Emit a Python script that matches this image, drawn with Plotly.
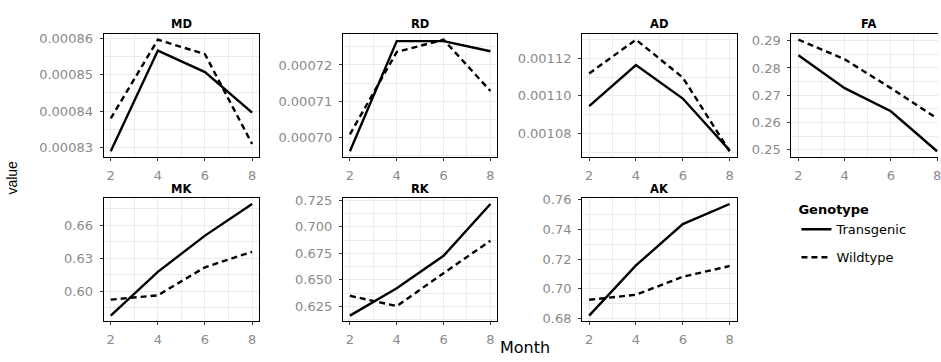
import plotly.graph_objects as go

# ---------------- data ----------------
months = [2, 4, 6, 8]
panels = ["MD", "RD", "AD", "FA", "MK", "RK", "AK"]
genotypes = ["Transgenic", "Wildtype"]

md_transgenic = [0.0008290, 0.0008566, 0.0008507, 0.0008396]
md_wildtype = [0.0008380, 0.0008596, 0.0008556, 0.0008310]
rd_transgenic = [0.0006961, 0.0007266, 0.0007266, 0.0007238]
rd_wildtype = [0.0007008, 0.0007236, 0.0007270, 0.0007128]
ad_transgenic = [0.0010946, 0.0011165, 0.0010986, 0.0010710]
ad_wildtype = [0.0011120, 0.0011300, 0.0011098, 0.0010705]
fa_transgenic = [0.2847, 0.2726, 0.2641, 0.2494]
fa_wildtype = [0.2904, 0.2832, 0.2726, 0.2615]
mk_transgenic = [0.5777, 0.6176, 0.6506, 0.6794]
mk_wildtype = [0.5923, 0.5962, 0.6218, 0.6359]
rk_transgenic = [0.6163, 0.6421, 0.6726, 0.7214]
rk_wildtype = [0.6350, 0.6253, 0.6563, 0.6868]
ak_transgenic = [0.6821, 0.7157, 0.7434, 0.7568]
ak_wildtype = [0.6927, 0.6961, 0.7081, 0.7153]

x_tick_vals = [2, 4, 6, 8]
x_tick_labels = ["2", "4", "6", "8"]

md_tick_vals = [0.00083, 0.00084, 0.00085, 0.00086]
md_tick_labels = ["0.00083", "0.00084", "0.00085", "0.00086"]
rd_tick_vals = [0.00070, 0.00071, 0.00072]
rd_tick_labels = ["0.00070", "0.00071", "0.00072"]
ad_tick_vals = [0.00108, 0.00110, 0.00112]
ad_tick_labels = ["0.00108", "0.00110", "0.00112"]
fa_tick_vals = [0.25, 0.26, 0.27, 0.28, 0.29]
fa_tick_labels = ["0.25", "0.26", "0.27", "0.28", "0.29"]
mk_tick_vals = [0.60, 0.63, 0.66]
mk_tick_labels = ["0.60", "0.63", "0.66"]
rk_tick_vals = [0.625, 0.650, 0.675, 0.700, 0.725]
rk_tick_labels = ["0.625", "0.650", "0.675", "0.700", "0.725"]
ak_tick_vals = [0.68, 0.70, 0.72, 0.74, 0.76]
ak_tick_labels = ["0.68", "0.70", "0.72", "0.74", "0.76"]

series = {
    "MD": (md_transgenic, md_wildtype, md_tick_vals, md_tick_labels),
    "RD": (rd_transgenic, rd_wildtype, rd_tick_vals, rd_tick_labels),
    "AD": (ad_transgenic, ad_wildtype, ad_tick_vals, ad_tick_labels),
    "FA": (fa_transgenic, fa_wildtype, fa_tick_vals, fa_tick_labels),
    "MK": (mk_transgenic, mk_wildtype, mk_tick_vals, mk_tick_labels),
    "RK": (rk_transgenic, rk_wildtype, rk_tick_vals, rk_tick_labels),
    "AK": (ak_transgenic, ak_wildtype, ak_tick_vals, ak_tick_labels),
}

# ---------------- layout geometry (pixels) ----------------
W, H = 941, 362
col_left = [104, 344, 584, 794]
col_right = [260, 499, 739, 941]
row_top = [28, 198]
row_bottom = [155, 325]

FONT = "DejaVu Sans"
GRID = "#EBEBEB"
TICKFONT = dict(family=FONT, size=13, color="#8A8A8A")

fig = go.Figure()
annotations = []

for i, name in enumerate(panels):
    r, c = divmod(i, 4)
    idx = i + 1
    xa = "x" if idx == 1 else f"x{idx}"
    ya = "y" if idx == 1 else f"y{idx}"
    trans, wild, tv, tl = series[name]

    for g, vals, dash in ((genotypes[0], trans, "solid"), (genotypes[1], wild, "6px,4px")):
        fig.add_trace(go.Scatter(
            x=months, y=vals, mode="lines", name=g, legendgroup=g,
            showlegend=(i == 0), xaxis=xa, yaxis=ya,
            line=dict(color="black", width=2.4, dash=dash),
            hoverinfo="skip",
        ))

    x0, x1 = col_left[c] / W, col_right[c] / W
    y0, y1 = 1 - row_bottom[r] / H, 1 - row_top[r] / H

    # x range: ggplot 5% expansion; FA panel is cut by the image edge
    xr = [1.7, 8.3] if name != "FA" else [1.7, 8.04]
    allv = trans + wild
    lo, hi = min(allv), max(allv)
    pad = (hi - lo) * 0.05
    yr = [lo - pad, hi + pad]
    ystep = tv[1] - tv[0]

    xkey = "xaxis" if idx == 1 else f"xaxis{idx}"
    ykey = "yaxis" if idx == 1 else f"yaxis{idx}"
    fig.layout[xkey] = dict(
        domain=[x0, x1], range=xr, anchor=ya,
        tickmode="array", tickvals=x_tick_vals, ticktext=x_tick_labels,
        ticks="outside", ticklen=3, tickwidth=1, tickcolor="#333333",
        tickfont=TICKFONT, showgrid=True, gridcolor=GRID, gridwidth=1,
        minor=dict(tick0=1, dtick=1, showgrid=True, gridcolor=GRID, gridwidth=0.5),
        showline=True, linecolor="black", linewidth=1.2, mirror=True,
        zeroline=False, fixedrange=True, ticklabeloverflow="allow",
        ticklabelstandoff=3,
    )
    fig.layout[ykey] = dict(
        domain=[y0, y1], range=yr, anchor=xa,
        tickmode="array", tickvals=tv, ticktext=tl,
        ticks="outside", ticklen=3, tickwidth=1, tickcolor="#333333",
        tickfont=TICKFONT, showgrid=True, gridcolor=GRID, gridwidth=1,
        minor=dict(tick0=tv[0], dtick=ystep / 2, showgrid=True, gridcolor=GRID, gridwidth=0.5),
        showline=True, linecolor="black", linewidth=1.2,
        mirror=(name != "FA"), zeroline=False, fixedrange=True,
        ticklabelstandoff=4,
    )

    cx = (col_left[c] + (col_right[c] if name != "FA" else 949)) / 2
    annotations.append(dict(
        text=f"<b>{name}</b>", x=cx / W,
        y=1 - (row_top[r] - 10) / H, xref="paper", yref="paper",
        xanchor="center", yanchor="middle", showarrow=False,
        font=dict(family=FONT, size=11.5, color="black"),
    ))

annotations.append(dict(
    text="value", x=12 / W, y=1 - 176.5 / H, xref="paper", yref="paper",
    textangle=-90, showarrow=False, xanchor="center", yanchor="middle",
    font=dict(family="Liberation Sans Narrow, Liberation Sans", size=14, color="black"),
))
annotations.append(dict(
    text="Month", x=527 / W, y=1 - 352 / H, xref="paper", yref="paper",
    showarrow=False, xanchor="center", yanchor="middle",
    font=dict(family=FONT, size=16, color="black"),
))

fig.update_layout(
    width=W, height=H,
    margin=dict(l=0, r=0, t=0, b=0, pad=0),
    paper_bgcolor="white", plot_bgcolor="white",
    showlegend=True,
    legend=dict(
        x=799 / W, y=1 - 197 / H, xanchor="left", yanchor="top",
        title=dict(text="<b>Genotype</b>", font=dict(family=FONT, size=13, color="black")),
        font=dict(family=FONT, size=13, color="black"),
        bgcolor="rgba(0,0,0,0)", borderwidth=0, tracegroupgap=8,
    ),
    annotations=annotations,
)

fig.write_html("out.html")
